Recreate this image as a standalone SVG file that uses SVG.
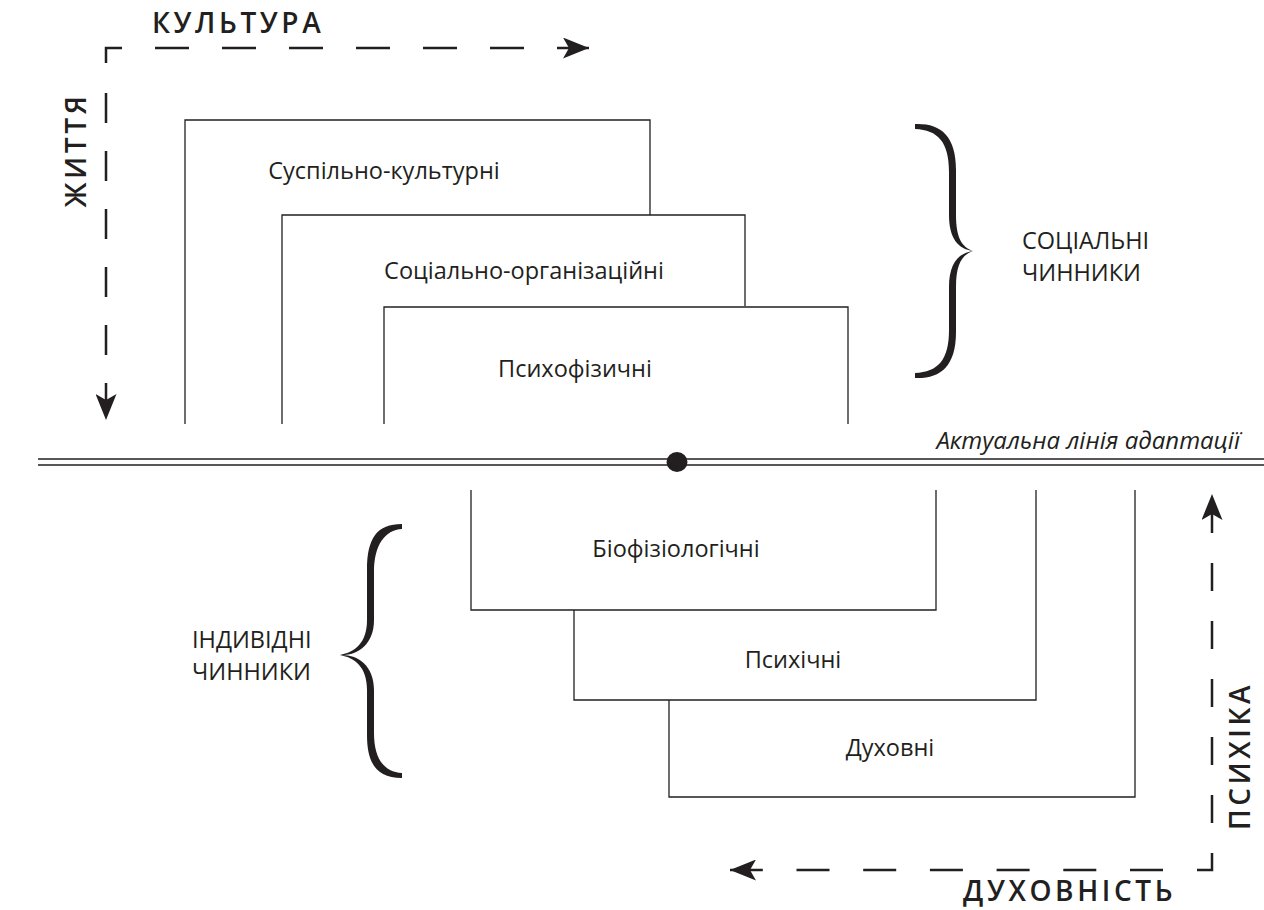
<svg xmlns="http://www.w3.org/2000/svg" width="1264" height="910" viewBox="0 0 1264 910">
<style>
.frame{fill:none;stroke:#231f20;stroke-width:1.3}
.dash{fill:none;stroke:#231f20;stroke-width:2.5}
.lbl{font-family:"Open Sans","Noto Sans",sans-serif;font-size:23.5px;fill:#231f20}
.cap{font-family:"Open Sans","Noto Sans",sans-serif;font-size:23.5px;fill:#231f20}
.axis{font-family:"Open Sans","Noto Sans",sans-serif;font-size:28px;font-weight:600;letter-spacing:3.6px;fill:#231f20}
.brace{fill:#231f20}
</style>
<defs>
<marker id="ah" viewBox="0 0 26 21" refX="26" refY="10.5" markerWidth="26" markerHeight="21" markerUnits="userSpaceOnUse" orient="auto">
<path d="M0,0 L26,10.5 L0,21 L6,10.5 Z" fill="#231f20"/>
</marker>
</defs>
<rect width="1264" height="910" fill="#fff"/>

<g id="connectors">
<polyline class="dash" points="106,63 106,48 122,48"/>
<line class="dash" x1="155" y1="48" x2="589" y2="48" stroke-dasharray="34 33" marker-end="url(#ah)"/>
<line class="dash" x1="106" y1="93" x2="106" y2="420" stroke-dasharray="30 28" marker-end="url(#ah)"/>
<polyline class="dash" points="1212,853 1212,870 1197,870"/>
<line class="dash" x1="1212" y1="823" x2="1212" y2="494" stroke-dasharray="28 30" marker-end="url(#ah)"/>
<line class="dash" x1="1163" y1="870" x2="730" y2="870" stroke-dasharray="33 33.7" marker-end="url(#ah)"/>
<line x1="38" y1="459" x2="1264" y2="459" stroke="#231f20" stroke-width="1.5"/>
<line x1="38" y1="465" x2="1264" y2="465" stroke="#231f20" stroke-width="1.5"/>
<ellipse cx="677" cy="462" rx="10.5" ry="10" fill="#231f20"/>
</g>

<g id="axis-labels">
<text class="axis" x="152" y="33">КУЛЬТУРА</text>
<text class="axis" transform="translate(86,150) rotate(-90)" text-anchor="middle">ЖИТТЯ</text>
<text class="axis" transform="translate(1250,756) rotate(-90)" text-anchor="middle">ПСИХІКА</text>
<text class="axis" x="963" y="901" letter-spacing="5">ДУХОВНІСТЬ</text>
<text x="1240" y="449" text-anchor="end" font-family="Open Sans, Noto Sans, sans-serif" font-style="italic" font-size="24" fill="#231f20">Актуальна лінія адаптації</text>
</g>

<g id="node-suspilno">
<path class="frame" d="M185,424 V120 H650 V215"/>
<text class="lbl" x="384" y="179" text-anchor="middle">Суспільно-культурні</text>
</g>
<g id="node-sotsialno">
<path class="frame" d="M282,424 V215 H745 V306"/>
<text class="lbl" x="524" y="279" text-anchor="middle">Соціально-організаційні</text>
</g>
<g id="node-psykhofiz">
<path class="frame" d="M384,424 V307 H848 V424"/>
<text class="lbl" x="575" y="377" text-anchor="middle">Психофізичні</text>
</g>

<g id="node-biofiz">
<path class="frame" d="M471,490 V610 H936 V490"/>
<text class="lbl" x="676" y="557" text-anchor="middle">Біофізіологічні</text>
</g>
<g id="node-psykhichni">
<path class="frame" d="M574,610 V700 H1036 V490"/>
<text class="lbl" x="793" y="668" text-anchor="middle">Психічні</text>
</g>
<g id="node-dukhovni">
<path class="frame" d="M669,700 V797 H1135 V490"/>
<text class="lbl" x="890" y="756" text-anchor="middle">Духовні</text>
</g>

<g id="brace-social">
<path class="brace" d="M915,124 C940,123 956,135 956,170 L956,215 C956,238 962,247 973,251 C958,249 949,238 949,215 L949,172 C949,142 938,130 915,129 Z"/>
<path class="brace" d="M915,378 C940,379 956,367 956,332 L956,287 C956,264 962,255 973,251 C958,253 949,264 949,287 L949,330 C949,360 938,372 915,373 Z"/>
<text class="cap" x="1022" y="249">СОЦІАЛЬНІ</text>
<text class="cap" x="1022" y="281">ЧИННИКИ</text>
</g>

<g id="brace-individual">
<path class="brace" d="M402,524 C377,524 367,538 367,570 L367,620 C367,643 355,652 340,655 C357,656 374,645 374,620 L374,572 C374,545 385,530 402,529 Z"/>
<path class="brace" d="M402,778 C377,778 367,764 367,735 L367,690 C367,667 355,658 340,655 C357,654 374,665 374,690 L374,733 C374,760 385,772 402,773 Z"/>
<text class="cap" x="192" y="648">ІНДИВІДНІ</text>
<text class="cap" x="192" y="680">ЧИННИКИ</text>
</g>
</svg>
